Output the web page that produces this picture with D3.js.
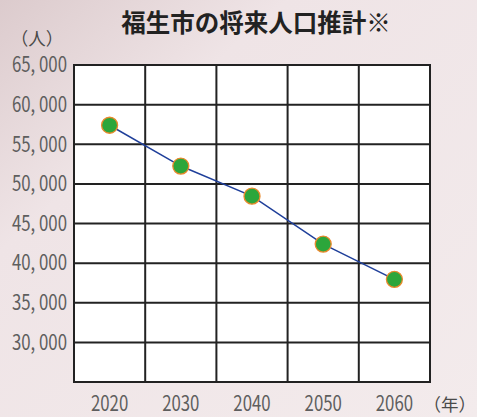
<!DOCTYPE html>
<html lang="ja">
<head>
  <meta charset="UTF-8">
  <title>福生市の将来人口推計</title>
  <style>
    body { margin: 0; }
    .tick-label { font-family: "Noto Sans CJK JP", "Noto Sans", sans-serif; font-size: 21px; font-weight: 400; fill: #5e5e5e; }
    .title { font-family: "Noto Sans CJK JP", sans-serif; font-size: 24.5px; font-weight: bold; fill: #222; }
    .unit { font-family: "Noto Sans CJK JP", sans-serif; font-size: 17.5px; fill: #4a4a4a; }
  </style>
</head>
<body>
  <svg width="477" height="417"></svg>
  <script src="https://cdn.jsdelivr.net/npm/d3@7"></script>
  <script>
    var years = ['2020', '2030', '2040', '2050', '2060']
    var population = [57400, 52250, 48450, 42400, 37950]
    var yTicks = [30000, 35000, 40000, 45000, 50000, 55000, 60000, 65000]

    var svg = d3.select('svg')
    var margin = { top: 65, left: 74, right: 47, bottom: 35 }
    var width = 477, height = 417
    var squeeze = 0.8

    // background
    var grad = svg.append('defs').append('linearGradient')
      .attr('id', 'bg').attr('x1', 0).attr('y1', 0).attr('x2', 1).attr('y2', 1)
    grad.append('stop').attr('offset', '0%').attr('stop-color', '#dccbcd')
    grad.append('stop').attr('offset', '30%').attr('stop-color', '#efe4e6')
    grad.append('stop').attr('offset', '100%').attr('stop-color', '#f3ebec')
    svg.append('rect').attr('width', width).attr('height', height).attr('fill', 'url(#bg)')

    var x = d3.scaleBand().domain(years).range([margin.left, width - margin.right])
    var y = d3.scaleLinear().domain([25000, 65000]).range([height - margin.bottom, margin.top])

    svg.append('rect')
      .attr('x', x.range()[0]).attr('y', y(65000))
      .attr('width', x.range()[1] - x.range()[0])
      .attr('height', y(25000) - y(65000))
      .attr('fill', '#fff')

    var grid = svg.append('g').attr('stroke', '#222').attr('stroke-width', 2)
    grid.selectAll('.h').data(yTicks.concat([25000])).enter().append('line')
      .attr('x1', x.range()[0] - 1).attr('x2', x.range()[1] + 1)
      .attr('y1', function(d) { return y(d) }).attr('y2', function(d) { return y(d) })
    var xs = years.map(function(d) { return x(d) }).concat([x.range()[1]])
    grid.selectAll('.v').data(xs).enter().append('line')
      .attr('x1', function(d) { return d }).attr('x2', function(d) { return d })
      .attr('y1', y(65000)).attr('y2', y(25000))

    svg.selectAll('.ylab').data(yTicks).enter().append('text')
      .attr('class', 'tick-label')
      .attr('transform', function(d) { return 'translate(67,' + y(d) + ') scale(' + squeeze + ',1)' })
      .attr('dy', '0.35em').attr('text-anchor', 'end')
      .text(function(d) { return d3.format(',')(d).replace(',', ', ') })

    svg.selectAll('.xlab').data(years).enter().append('text')
      .attr('class', 'tick-label')
      .attr('transform', function(d) { return 'translate(' + (x(d) + x.bandwidth() / 2) + ',404) scale(' + squeeze + ',1)' })
      .attr('dy', '0.35em').attr('text-anchor', 'middle')
      .text(function(d) { return d })

    var line = d3.line()
      .x(function(d, i) { return x(years[i]) + x.bandwidth() / 2 })
      .y(function(d) { return y(d) })
    svg.append('path').datum(population)
      .attr('d', line).attr('fill', 'none')
      .attr('stroke', '#1f3f9a').attr('stroke-width', 1.5)

    svg.selectAll('.pt').data(population).enter().append('circle')
      .attr('cx', function(d, i) { return x(years[i]) + x.bandwidth() / 2 })
      .attr('cy', function(d) { return y(d) })
      .attr('r', 8)
      .attr('fill', '#2ca63b').attr('stroke', '#e8892c').attr('stroke-width', 1.3)

    svg.append('text').attr('class', 'title')
      .attr('x', 256).attr('y', 32).attr('text-anchor', 'middle')
      .text('福生市の将来人口推計※')
    svg.append('text').attr('class', 'unit')
      .attr('x', 37).attr('y', 45).attr('text-anchor', 'middle')
      .text('（人）')
    svg.append('text').attr('class', 'unit')
      .attr('x', 476).attr('y', 411).attr('text-anchor', 'end')
      .text('（年）')
  </script>
</body>
</html>
